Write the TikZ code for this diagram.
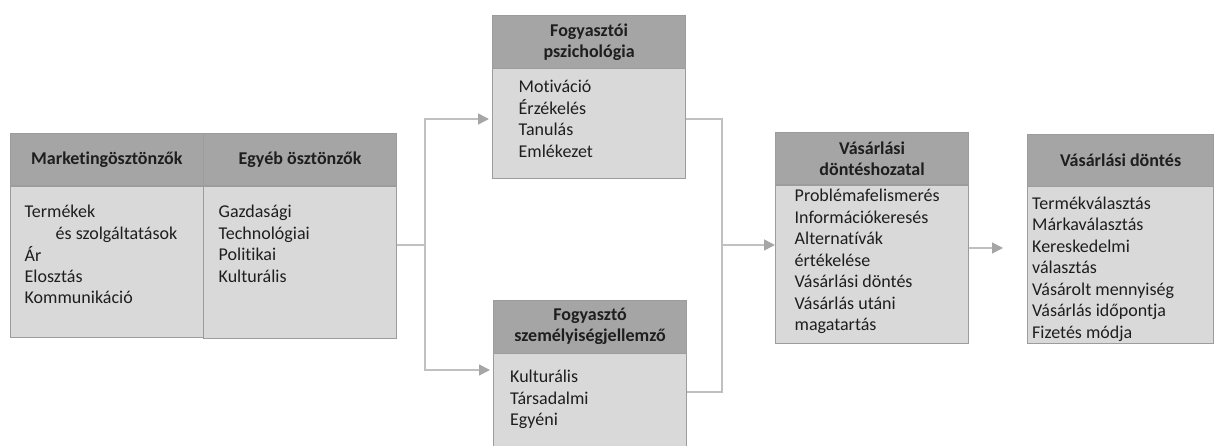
\documentclass[tikz,border=0pt]{standalone}
\usepackage{fontspec}
\setmainfont{Carlito}[Ligatures=NoCommon]
\usetikzlibrary{arrows.meta}
\definecolor{headgray}{HTML}{A5A5A5}
\definecolor{bodygray}{HTML}{D9D9D9}
\definecolor{edgegray}{HTML}{9C9C9C}
\definecolor{linegray}{HTML}{C0C0C0}
\definecolor{tipgray}{HTML}{A6A6A6}
\definecolor{inkgray}{HTML}{1E1E1E}
\tikzset{
  headbox/.style={draw=edgegray, line width=1.2pt, fill=headgray, anchor=north west, text=inkgray,
    inner sep=0pt, align=center, font=\fontsize{18}{21}\selectfont\bfseries},
  bodybox/.style={draw=edgegray, line width=1.2pt, fill=bodygray, anchor=north west, inner sep=0pt},
  % base = baseline of the last line
  itemtext/.style={anchor=base west, inner sep=0pt, align=left, text=inkgray, font=\fontsize{18}{21.5}\selectfont},
  flow/.style={draw=linegray, line width=1.5pt},
  flowarrow/.style={flow, -{Triangle[length=11pt,width=11pt,color=tipgray]}},
}
\begin{document}
\begin{tikzpicture}[x=1pt,y=-1pt]
            \useasboundingbox (0,0) rectangle (1215,446);
            \clip (0,0) rectangle (1215,446);
            % osztonzok
            \node[bodybox, minimum width=193.5pt, minimum height=151.5pt] (mkb) at (9.5,185.5) {};
            \node[bodybox, minimum width=193pt, minimum height=152.5pt] (egyb) at (203,185.5) {};
            \node[headbox, minimum width=193.5pt, minimum height=52.5pt] (mkh) at (9.5,133) {Marketingösztönzők};
            \node[headbox, minimum width=193pt, minimum height=52.5pt] (egyh) at (203,133) {Egyéb ösztönzők};
            \node[itemtext] (mkt) at (24.5,304) {Termékek\\\hspace*{31pt}és szolgáltatások\\Ár\\Elosztás\\Kommunikáció};
            \node[itemtext] (egyt) at (218.5,282.5) {Gazdasági\\Technológiai\\Politikai\\Kulturális};
            % fogyaszto
            \node[bodybox, minimum width=193pt, minimum height=110pt] (pszb) at (492,68) {};
            \node[headbox, minimum width=193pt, minimum height=53pt] (pszh) at (492,15) {Fogyasztói\\pszichológia};
            \node[itemtext] (pszt) at (518.5,157.2) {Motiváció\\Érzékelés\\Tanulás\\Emlékezet};
            \node[bodybox, minimum width=193pt, minimum height=100pt] (szb) at (493,352.5) {};
            \node[headbox, minimum width=193pt, minimum height=53pt] (szh) at (493,299.5) {Fogyasztó\\személyiségjellemző};
            \node[itemtext] (szt) at (510,425.7) {Kulturális\\Társadalmi\\Egyéni};
            % dontes
            \node[bodybox, minimum width=193pt, minimum height=158.5pt] (dhb) at (775,184.5) {};
            \node[headbox, minimum width=193pt, minimum height=52.5pt] (dhh) at (775,132) {Vásárlási\\döntéshozatal};
            \node[itemtext] (dht) at (794.5,330.7) {Problémafelismerés\\Információkeresés\\Alternatívák\\értékelése\\Vásárlási döntés\\Vásárlás utáni\\magatartás};
            \node[bodybox, minimum width=186pt, minimum height=157pt] (vdb) at (1027,186) {};
            \node[headbox, minimum width=186pt, minimum height=52pt] (vdh) at (1027,134) {Vásárlási döntés};
            \node[itemtext] (vdt) at (1032,338.3) {Termékválasztás\\Márkaválasztás\\Kereskedelmi\\választás\\Vásárolt mennyiség\\Vásárlás időpontja\\Fizetés módja};
            % nyilak
            \coordinate (split) at (425,245);
            \coordinate (merge) at (722,245);
            \coordinate (upper) at (0,119);
            \coordinate (lower) at (0,370);
            \coordinate (lowout) at (0,392);
            \coordinate (outrow) at (0,248);
            \draw[flow] (egyb.east |- split) -- (split);
            \draw[flowarrow, shorten >=3pt] (split) |- (pszb.west |- upper);
            \draw[flowarrow, shorten >=3pt] (split) |- (szb.west |- lower);
            \draw[flow] (pszb.east |- upper) -| (merge) |- (szb.east |- lowout);
            \draw[flowarrow] (merge) -- (dhb.west |- merge);
            \draw[flowarrow, shorten >=24pt] (dhb.east |- outrow) -- (vdb.west |- outrow);
\end{tikzpicture}
\end{document}
